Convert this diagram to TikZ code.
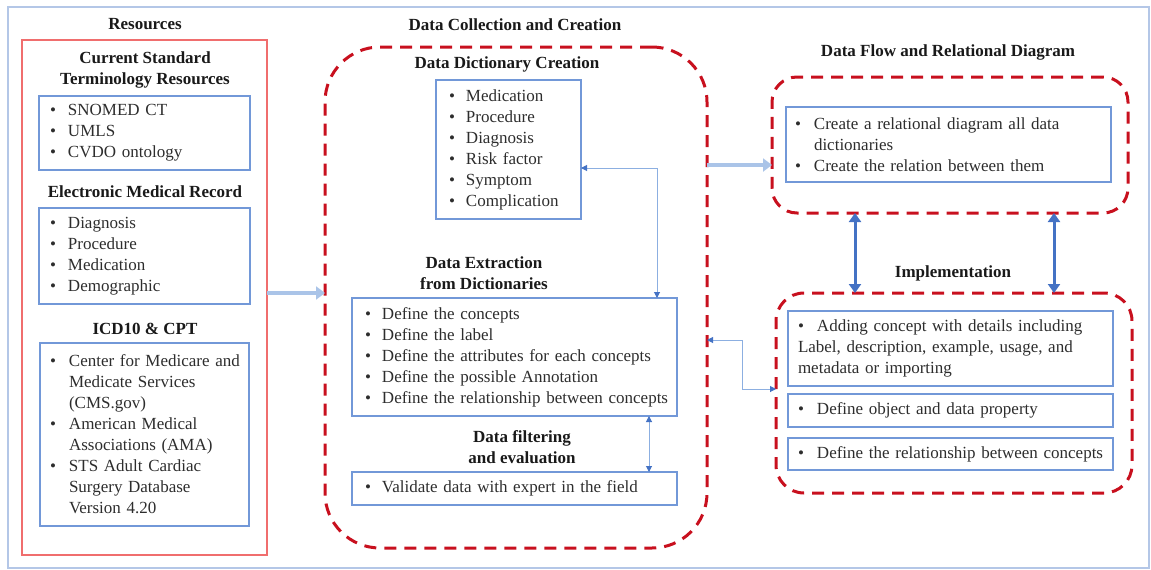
\documentclass[tikz,border=0pt]{standalone}
\usepackage{fontspec}
\setmainfont{Liberation Serif}
\usetikzlibrary{arrows.meta}
\definecolor{boxblue}{RGB}{114,152,216}
\definecolor{frameblue}{RGB}{180,199,231}
\definecolor{resred}{RGB}{240,110,110}
\definecolor{dashred}{RGB}{200,16,30}
\definecolor{lightarr}{RGB}{170,196,232}
\definecolor{thinline}{RGB}{140,175,225}
\definecolor{tipblue}{RGB}{68,114,196}
\definecolor{txt}{RGB}{45,45,45}
\definecolor{ttlc}{RGB}{25,25,25}
\newcommand{\itm}[2][17pt]{\mbox{\makebox[#1][l]{\textbullet}#2}}
\newcommand{\ind}[2][18pt]{\mbox{\hspace*{#1}#2}}
\tikzset{
  ibox/.style={draw=boxblue, line width=1.3pt, anchor=north west, align=left,
    inner ysep=0pt, outer sep=0pt, font=\fontsize{17}{21}\selectfont, text=txt},
  ttl/.style={font=\fontsize{17}{21}\selectfont\bfseries, align=center, inner sep=0pt, text=ttlc},
  rdash/.style={draw=dashred, line width=3pt, dash pattern=on 12pt off 8pt,
    anchor=north west, inner sep=0pt, outer sep=0pt},
  bigarr/.style={draw=lightarr, line width=3.5pt, arrows={-Triangle[length=9pt,width=13pt]}},
  bluearr/.style={draw=tipblue, line width=3pt, arrows={Triangle[length=9pt,width=12pt]-Triangle[length=9pt,width=12pt]}},
  thinarr/.style={draw=thinline, line width=1pt, arrows={Triangle[length=6pt,width=6pt,color=tipblue]-Triangle[length=6pt,width=6pt,color=tipblue]}}
}
\begin{document}
\begin{tikzpicture}[x=1pt,y=-1pt]
\useasboundingbox (0,0) rectangle (1151,570);
\draw[frameblue, line width=1.5pt] (8,7) rectangle (1149,568);

% Resources column
\node[ttl] (tres) at (145,24) {Resources};
\node[draw=resred, line width=1.5pt, anchor=north west, minimum width=245pt, minimum height=515pt, inner sep=0pt, outer sep=0pt] (res) at (22,40) {};
\node[ttl] (tcur) at (145,69.5) {Current Standard\\Terminology Resources};
\node[ibox, inner xsep=11pt, text width=189pt, minimum height=74pt] (b1) at (39,96)
  {\itm[18pt]{SNOMED CT}\\\itm[18pt]{UMLS}\\\itm[18pt]{CVDO ontology}};
\node[ttl] (temr) at (145,192) {Electronic Medical Record};
\node[ibox, inner xsep=11pt, text width=189pt, minimum height=96pt] (b2) at (39,208)
  {\itm[18pt]{Diagnosis}\\\itm[18pt]{Procedure}\\\itm[18pt]{Medication}\\\itm[18pt]{Demographic}};
\node[ttl] (ticd) at (145,329) {ICD10 \& CPT};
\node[ibox, inner xsep=10pt, text width=189pt, minimum height=183pt] (b3) at (40,343)
  {\itm[19pt]{Center for Medicare and}\\\ind[19pt]{Medicate Services}\\\ind[19pt]{(CMS.gov)}\\
   \itm[19pt]{American Medical}\\\ind[19pt]{Associations (AMA)}\\
   \itm[19pt]{STS Adult Cardiac}\\\ind[19pt]{Surgery Database}\\\ind[19pt]{Version 4.20}};

% Middle column
\node[ttl] (tdcc) at (515,25) {Data Collection and Creation};
\node[rdash, rounded corners=55pt, minimum width=382pt, minimum height=501pt] (mid) at (325,47) {};
\node[ttl] (tddc) at (507,64) {Data Dictionary Creation};
\node[ibox, inner xsep=13pt, text width=119pt, minimum height=139pt] (dd) at (436,80)
  {\itm{Medication}\\\itm{Procedure}\\\itm{Diagnosis}\\\itm{Risk factor}\\\itm{Symptom}\\\itm{Complication}};
\node[ttl] (tde) at (484,273.5) {Data Extraction\\from Dictionaries};
\node[ibox, inner xsep=13pt, text width=299pt, minimum height=118pt] (de) at (352,298)
  {\itm{Define the concepts}\\\itm{Define the label}\\\itm{Define the attributes for each concepts}\\
   \itm{Define the possible Annotation}\\\itm{Define the relationship between concepts}};
\node[ttl] (tdf) at (522,447.5) {Data filtering\\and evaluation};
\node[ibox, inner xsep=13pt, text width=299pt, minimum height=33pt] (val) at (352,472)
  {\itm{Validate data with expert in the field}};

% Right column
\node[ttl] (tflow) at (948,52) {Data Flow and Relational Diagram};
\node[rdash, rounded corners=25pt, minimum width=356pt, minimum height=136pt] (flow) at (772,77) {};
\node[ibox, inner xsep=9pt, text width=307pt, minimum height=75pt] (dfb) at (786,107)
  {\itm[19pt]{Create a relational diagram all data}\\\ind[19pt]{dictionaries}\\\itm[19pt]{Create the relation between them}};
\node[ttl] (timp) at (953,273) {Implementation};
\node[rdash, rounded corners=28pt, minimum width=356pt, minimum height=200pt] (impl) at (776,293) {};
\node[ibox, inner xsep=10pt, text width=305pt, minimum height=75pt] (ia) at (788,311)
  {\itm[19pt]{Adding concept with details including}\\\mbox{Label, description, example, usage, and}\\\mbox{metadata or importing}};
\node[ibox, inner xsep=10pt, text width=305pt, minimum height=33pt] (ib) at (788,394)
  {\itm[19pt]{Define object and data property}};
\node[ibox, inner xsep=10pt, text width=305pt, minimum height=32pt] (ic) at (788,438)
  {\itm[19pt]{Define the relationship between concepts}};

% Connectors
\draw[bigarr] (res.east |- 0,293) -- (mid.west |- 0,293);
\draw[bigarr] (mid.east |- 0,165) -- (flow.west |- 0,165);
\draw[bluearr] (flow.south -| 855,0) -- (impl.north -| 855,0);
\draw[bluearr] (flow.south -| 1054,0) -- (impl.north -| 1054,0);
\draw[thinarr] (dd.east |- 0,168) -| (de.north -| 657,0);
\draw[thinarr] (de.south -| 649,0) -- (val.north -| 649,0);
\coordinate (bend) at (742,340);
\draw[thinarr] (mid.east |- bend) -- (bend) |- (impl.west |- 0,389);
\end{tikzpicture}
\end{document}
